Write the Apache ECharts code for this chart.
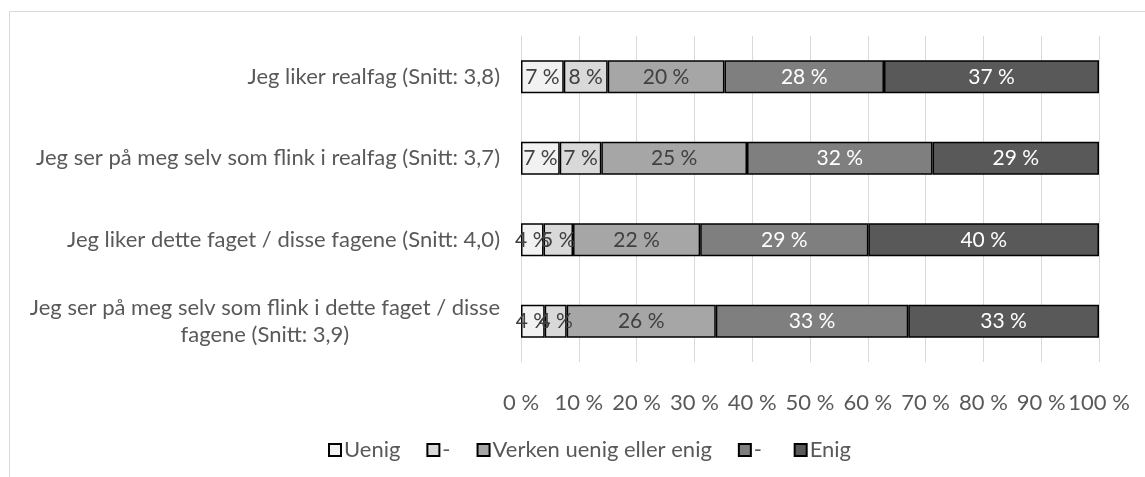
<!DOCTYPE html>
<html>
<head>
<meta charset="utf-8">
<script src="https://cdn.jsdelivr.net/npm/echarts@6/dist/echarts.min.js"></script>
<style>
html,body{margin:0;padding:0;background:#fff;}
#c{width:1145px;height:477px;}
</style>
</head>
<body>
<div id="c"></div>
<script>
const categories = [
  'Jeg liker realfag (Snitt: 3,8)',
  'Jeg ser på meg selv som flink i realfag (Snitt: 3,7)',
  'Jeg liker dette faget / disse fagene (Snitt: 4,0)',
  'Jeg ser på meg selv som flink i dette faget / disse\nfagene (Snitt: 3,9)'
];
const seriesNames = ['Uenig', '-', 'Verken uenig eller enig', '- ', 'Enig'];
const uenig   = [7.4, 6.7, 3.9, 4.1];
const litt    = [7.6, 7.2, 5.1, 3.8];
const verken  = [20.2, 25.2, 22.0, 25.8];
const noe     = [27.6, 32.1, 29.1, 33.3];
const enig    = [37.2, 28.8, 39.9, 33.0];
const xTicks = [0, 10, 20, 30, 40, 50, 60, 70, 80, 90, 100];

const values = [uenig, litt, verken, noe, enig];
const colors = ['#f2f2f2', '#d9d9d9', '#a6a6a6', '#7f7f7f', '#595959'];
const labelColors = ['#404040', '#404040', '#404040', '#ffffff', '#ffffff'];
const FONT = 'Lato';
const FS = 22;

const chart = echarts.init(document.getElementById('c'), null, {renderer: 'canvas'});
chart.setOption({
  animation: false,
  textStyle: {fontFamily: FONT},
  graphic: [{
    type: 'rect', left: 7, top: 9, silent: true,
    shape: {width: 1400, height: 700},
    style: {fill: 'none', stroke: '#d9d9d9', lineWidth: 1}
  }],
  grid: {left: 521, right: 46, top: 36, bottom: 115, containLabel: false},
  xAxis: {
    type: 'value', min: xTicks[0], max: xTicks[xTicks.length - 1], interval: 10,
    axisLine: {show: false}, axisTick: {show: false},
    splitLine: {show: true, lineStyle: {color: '#d9d9d9', width: 1}},
    axisLabel: {formatter: '{value} %', color: '#595959', fontSize: FS, margin: 30, fontFamily: FONT}
  },
  yAxis: {
    type: 'category', data: categories, inverse: true,
    axisLine: {show: true, lineStyle: {color: '#d9d9d9'}}, axisTick: {show: false},
    axisLabel: {
      color: '#595959', fontSize: FS, margin: 21, fontFamily: FONT, lineHeight: 27,
      formatter: function (v) {
        if (v.indexOf('\n') >= 0) {
          return v.split('\n').map(function (s) { return '{c|' + s + '}'; }).join('\n');
        }
        return v;
      },
      rich: {c: {align: 'center', color: '#595959', fontSize: FS, fontFamily: FONT, lineHeight: 27}}
    }
  },
  legend: {
    left: 323, top: 434, icon: 'rect', itemWidth: 12, itemHeight: 12, itemGap: 26,
    textStyle: {color: '#595959', fontSize: FS, fontFamily: FONT, padding: [0, 0, 0, -2]},
    data: seriesNames
  },
  series: seriesNames.map(function (name, i) {
    return {
      name: name, type: 'bar', stack: 'total', barWidth: 33,
      data: values[i],
      itemStyle: {color: colors[i], borderColor: '#000', borderWidth: 1.5},
      label: {
        show: true, position: 'inside', color: labelColors[i], fontSize: 21, fontFamily: FONT,
        formatter: function (p) { return Math.round(p.value) + ' %'; }
      }
    };
  })
});
</script>
</body>
</html>
